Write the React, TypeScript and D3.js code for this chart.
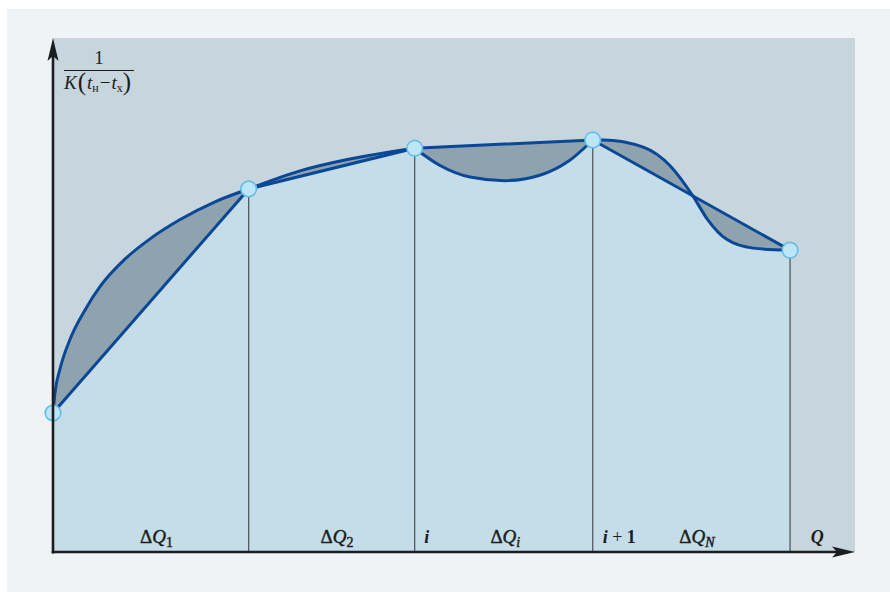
import React from "react";
import * as d3 from "d3";

// Node points (Q, 1/K(tн − tх)) in relative units
const nodeQ = [0, 24.4, 45.1, 67.3, 91.9];
const nodeV = [27.2, 70.7, 78.6, 80.2, 58.8];

// True curve samples between nodes (three pieces)
const curve1Q = [0, 0.25, 0.9, 2.1, 4.0, 5.9, 9.0, 12.1, 15.8, 20.2, 24.4, 30.8, 37.0, 45.1];
const curve1V = [27.2, 31.1, 35.9, 41.4, 47.2, 51.8, 57.1, 61.0, 64.7, 68.2, 70.7, 74.2, 76.5, 78.6];

const curve2Q = [45.1, 48.2, 52.0, 56.3, 60.8, 64.3, 67.3];
const curve2V = [78.6, 75.3, 73.0, 72.3, 73.4, 76.1, 80.2];

const curve3Q = [67.3, 68.6, 73.6, 77.0, 79.8, 81.6, 84.0, 87.3, 91.9];
const curve3V = [80.2, 80.2, 78.8, 75.1, 69.3, 64.8, 60.9, 59.2, 58.8];

const segLabels = [
  { q: 12.9, sub: "1", subItalic: false },
  { q: 35.4, sub: "2", subItalic: false },
  { q: 56.4, sub: "i", subItalic: true },
  { q: 80.3, sub: "N", subItalic: true },
];
const nodeLabels = [
  { q: 46.6, parts: ["i"] },
  { q: 70.6, parts: ["i", "+", "1"] },
  { q: 95.3, parts: ["Q"] },
];

const W = 890;
const H = 592;
const plot = { left: 53, right: 855, top: 38, bottom: 553 };

const x = d3.scaleLinear().domain([0, 100]).range([plot.left, plot.right]);
const y = d3.scaleLinear().domain([0, 100]).range([plot.bottom, plot.top]);

type P = [number, number];
const zip = (qs: number[], vs: number[]): P[] => qs.map((q, i) => [q, vs[i]]);

const nodes = zip(nodeQ, nodeV);
const pieces = [zip(curve1Q, curve1V), zip(curve2Q, curve2V), zip(curve3Q, curve3V)];
const chordPieces: P[][] = [
  [nodes[0], nodes[1], nodes[2]],
  [nodes[2], nodes[3]],
  [nodes[3], nodes[4]],
];

const smooth = d3
  .line<P>()
  .x((d) => x(d[0]))
  .y((d) => y(d[1]))
  .curve(d3.curveMonotoneX);
const straight = d3
  .line<P>()
  .x((d) => x(d[0]))
  .y((d) => y(d[1]));
const under = d3
  .area<P>()
  .x((d) => x(d[0]))
  .y0(y(0))
  .y1((d) => y(d[1]));

const serif = "'Liberation Serif', 'DejaVu Serif', serif";
const lineBlue = "#0b4797";
const ink = "#1b1d20";

export default function App() {
  const gapPaths = pieces.map((pc, i) => {
    const back = chordPieces[i].slice().reverse();
    const tail = back.map((d) => `L${x(d[0])},${y(d[1])}`).join("");
    return `${smooth(pc)}${tail}Z`;
  });
  const axisY = plot.bottom - 1;
  return (
    <svg
      width={W}
      height={H}
      style={{ position: "absolute", left: 0, top: 0, background: "#ffffff" }}
    >
      <rect x={7} y={9} width={W - 7} height={H - 9} fill="#eff3f6" />
      <rect
        x={plot.left}
        y={plot.top}
        width={plot.right - plot.left}
        height={axisY - plot.top}
        fill="#c7d5dd"
      />
      <path d={under(nodes) ?? ""} fill="#c5dde9" />
      {gapPaths.map((d, i) => (
        <path key={i} d={d} fill="#8fa3af" fillRule="nonzero" />
      ))}
      {nodes.slice(1).map((d, i) => (
        <line
          key={i}
          x1={x(d[0])}
          x2={x(d[0])}
          y1={y(d[1])}
          y2={axisY}
          stroke="#4a4f55"
          strokeWidth={1.2}
        />
      ))}
      {pieces.map((pc, i) => (
        <path key={i} d={smooth(pc) ?? ""} fill="none" stroke={lineBlue} strokeWidth={3} />
      ))}
      <path d={straight(nodes) ?? ""} fill="none" stroke={lineBlue} strokeWidth={3} strokeLinejoin="round" />
      {nodes.map((d, i) => (
        <circle
          key={i}
          cx={x(d[0])}
          cy={y(d[1])}
          r={7.8}
          fill="#bde5f8"
          stroke="#66bde6"
          strokeWidth={1.6}
        />
      ))}
      {/* axes */}
      <line x1={plot.left} x2={plot.left} y1={axisY + 1.5} y2={plot.top + 12} stroke={ink} strokeWidth={2.6} />
      <path
        d={`M${plot.left},${plot.top} L${plot.left + 5.5},${plot.top + 23} L${plot.left},${plot.top + 18} L${plot.left - 5.5},${plot.top + 23} Z`}
        fill={ink}
      />
      <line x1={plot.left - 1.3} x2={plot.right - 12} y1={axisY} y2={axisY} stroke={ink} strokeWidth={2.6} />
      <path
        d={`M${plot.right},${axisY} L${plot.right - 23},${axisY + 5.5} L${plot.right - 18},${axisY} L${plot.right - 23},${axisY - 5.5} Z`}
        fill={ink}
      />
      {/* segment labels */}
      {segLabels.map((l, i) => (
        <text
          key={i}
          x={x(l.q)}
          y={axisY - 9}
          textAnchor="middle"
          fontFamily={serif}
          fontSize={19}
          fill={ink}
          stroke={ink}
          strokeWidth={0.45}
        >
          <tspan>Δ</tspan>
          <tspan fontStyle="italic">Q</tspan>
          <tspan fontSize={14} dy={4} fontStyle={l.subItalic ? "italic" : "normal"}>
            {l.sub}
          </tspan>
        </text>
      ))}
      {nodeLabels.map((l, i) => (
        <text
          key={i}
          x={x(l.q)}
          y={axisY - 9}
          textAnchor="middle"
          fontFamily={serif}
          fontSize={18}
          fontWeight="bold"
          fill={ink}
        >
          {l.parts.map((part, j) => (
            <tspan
              key={j}
              fontStyle={part === "+" || part === "1" ? "normal" : "italic"}
              fontWeight={part === "+" ? "normal" : "bold"}
            >
              {(j > 0 ? " " : "") + part}
            </tspan>
          ))}
        </text>
      ))}
      {/* y-axis title: 1 / K(tн − tх) */}
      <g fontFamily={serif} fill={ink}>
        <text x={99} y={64} textAnchor="middle" fontSize={19}>1</text>
        <line x1={64} x2={134} y1={70.5} y2={70.5} stroke={ink} strokeWidth={1} />
        <text x={64} y={89} fontSize={19}>
          <tspan fontStyle="italic">K</tspan>
          <tspan fontSize={25} dy={1} dx={1}>(</tspan>
          <tspan fontStyle="italic" dy={-1} dx={1}>t</tspan>
          <tspan fontSize={12} dy={3}>н</tspan>
          <tspan dy={-3} dx={1}>−</tspan>
          <tspan fontStyle="italic" dx={1}>t</tspan>
          <tspan fontSize={12} dy={3}>х</tspan>
          <tspan fontSize={25} dy={-2}>)</tspan>
        </text>
      </g>
    </svg>
  );
}
